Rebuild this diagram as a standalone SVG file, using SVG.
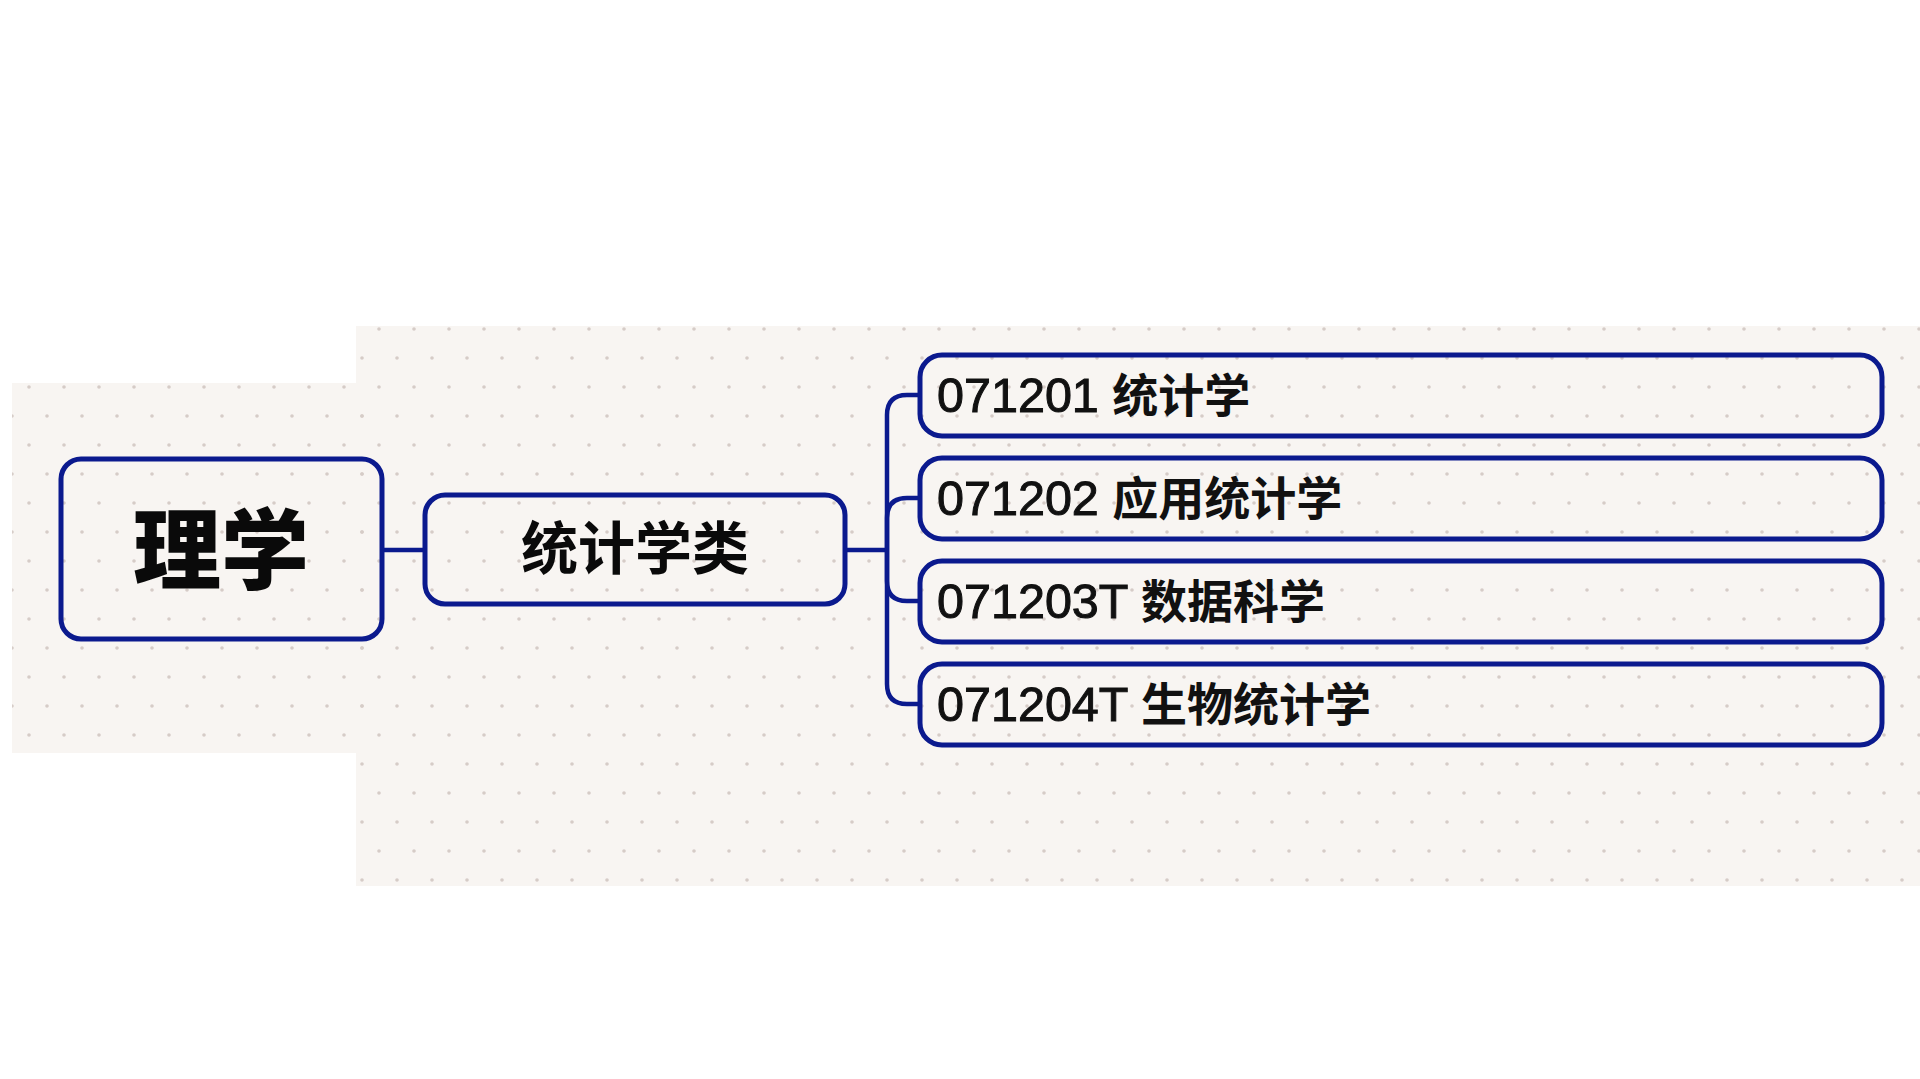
<svg xmlns="http://www.w3.org/2000/svg" width="1920" height="1079" viewBox="0 0 1920 1079">
<defs>
<pattern id="dots" x="0" y="0" width="35" height="58" patternUnits="userSpaceOnUse">
<circle cx="12" cy="10" r="1.8" fill="#d6ccc7"/>
<circle cx="29" cy="39" r="1.8" fill="#d6ccc7"/>
</pattern>
<style>
.box{fill:none;stroke:#0b1a8e;stroke-width:5}
.con{fill:none;stroke:#0b1a8e;stroke-width:4.5}
.t{font-family:"Liberation Sans","Noto Sans CJK SC",sans-serif;font-size:48.5px;fill:#111;stroke:#111;stroke-width:1}
.c{font-family:"Noto Sans CJK SC",sans-serif;font-weight:700;font-size:46px;stroke-width:0}
.big{font-family:"Noto Sans CJK SC",sans-serif;font-weight:900;fill:#0a0a0a}
</style>
</defs>
<rect width="1920" height="1079" fill="#ffffff"/>
<g id="background">
<rect x="12" y="383" width="360" height="370" fill="#f8f5f2"/>
<rect x="356" y="326" width="1564" height="560" fill="#f8f5f2"/>
<rect x="12" y="383" width="360" height="370" fill="url(#dots)"/>
<rect x="356" y="326" width="1564" height="560" fill="url(#dots)"/>
</g>
<g id="connectors">
<path class="con" d="M382 550 H425"/>
<path class="con" d="M845 550 H887"/>
<path class="con" d="M887 550 V415 Q887 395 907 395 H920"/>
<path class="con" d="M887 550 V518 Q887 498 907 498 H920"/>
<path class="con" d="M887 550 V581 Q887 601 907 601 H920"/>
<path class="con" d="M887 550 V684 Q887 704 907 704 H920"/>
</g>
<g id="node-root">
<rect class="box" x="61" y="459" width="321" height="180" rx="20"/>
<text class="big" x="221" y="582" font-size="88" text-anchor="middle">理学</text>
</g>
<g id="node-category">
<rect class="box" x="425" y="495" width="420" height="109" rx="20"/>
<text class="big" x="635" y="569" font-size="57" text-anchor="middle" style="font-weight:700">统计学类</text>
</g>
<g id="node-071201">
<rect class="box" x="920" y="355" width="962" height="81" rx="22"/>
<text class="t" x="937" y="412">071201 <tspan class="c">统计学</tspan></text>
</g>
<g id="node-071202">
<rect class="box" x="920" y="458" width="962" height="81" rx="22"/>
<text class="t" x="937" y="515">071202 <tspan class="c">应用统计学</tspan></text>
</g>
<g id="node-071203T">
<rect class="box" x="920" y="561" width="962" height="81" rx="22"/>
<text class="t" x="937" y="618">071203T <tspan class="c">数据科学</tspan></text>
</g>
<g id="node-071204T">
<rect class="box" x="920" y="664" width="962" height="81" rx="22"/>
<text class="t" x="937" y="721">071204T <tspan class="c">生物统计学</tspan></text>
</g>
</svg>
